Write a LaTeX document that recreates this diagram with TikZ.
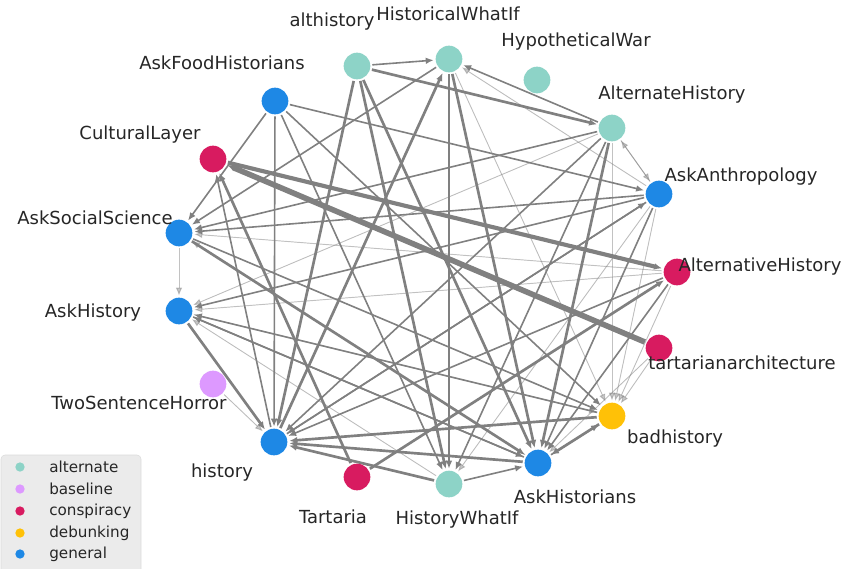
\documentclass[tikz,border=0pt]{standalone}
\usepackage{fontspec}
\setmainfont{DejaVu Sans}
\usepackage{xcolor}
\usepackage{tikz}
\usetikzlibrary{arrows.meta,positioning,backgrounds}
\definecolor{cAlt}{HTML}{8DD3C7}
\definecolor{cBase}{HTML}{DD99FF}
\definecolor{cCons}{HTML}{D81B60}
\definecolor{cDeb}{HTML}{FFC107}
\definecolor{cGen}{HTML}{1E88E5}
\definecolor{eGray}{HTML}{808080}
\definecolor{lblInk}{HTML}{262626}

\begin{document}
\begin{tikzpicture}[
  x=0.75pt, y=-0.75pt,
  font=\fontsize{13.5}{15}\selectfont,
  sub/.style={circle, minimum size=20pt, inner sep=0pt, outer sep=1.5pt},
  alt/.style={sub, fill=cAlt},
  base/.style={sub, fill=cBase},
  cons/.style={sub, fill=cCons},
  deb/.style={sub, fill=cDeb},
  gen/.style={sub, fill=cGen},
  lbl/.style={text=lblInk, inner sep=0pt},
  arr/.style={-{Latex[length=6pt,width=5pt]}, draw=eGray, fill=eGray},
  e1/.style={arr, line width=0.7pt, draw opacity=0.45, fill opacity=0.45},
  e2/.style={arr, line width=1.2pt},
  e3/.style={arr, line width=2pt},
  e4/.style={arr, line width=3.1pt},
  e5/.style={arr, line width=4.2pt},
  legdot/.style={circle, minimum size=7pt, inner sep=0pt},
  legtxt/.style={anchor=west, inner sep=0pt, text=lblInk, font=\fontsize{11.4}{13}\selectfont}
]
\useasboundingbox (0,0) rectangle (846,568);

% subreddits
\node[alt]  (althistory) at (357,66) {};
\node[alt]  (hwi)        at (449,59) {};
\node[alt]  (hypwar)     at (537,80) {};
\node[alt]  (althist)    at (612,128) {};
\node[gen]  (anthro)     at (659,194) {};
\node[cons] (altvhist)   at (677,272) {};
\node[cons] (tarchi)     at (659,348) {};
\node[deb]  (badhist)    at (612,416) {};
\node[gen]  (askhists)   at (538,463) {};
\node[alt]  (hwif)       at (449,484) {};
\node[cons] (tartaria)   at (357,477) {};
\node[gen]  (history)    at (274,442) {};
\node[base] (twosent)    at (213,384) {};
\node[gen]  (askhistory) at (179,311) {};
\node[gen]  (socsci)     at (179,233) {};
\node[cons] (cultlayer)  at (213,159) {};
\node[gen]  (foodhist)   at (275,101) {};

% labels
\node[lbl] (lAlthistory) at (332,22)  {althistory};
\node[lbl] (lHwi)        at (448,14)  {HistoricalWhatIf};
\node[lbl] (lHypwar)     at (576,42)  {HypotheticalWar};
\node[lbl] (lAlthist)    at (672,95)  {AlternateHistory};
\node[lbl] (lAnthro)     at (741,177) {AskAnthropology};
\node[lbl] (lAltvhist)   at (760,267) {AlternativeHistory};
\node[lbl] (lTarchi)     at (742,363) {tartarianarchitecture};
\node[lbl] (lBadhist)    at (675,439) {badhistory};
\node[lbl] (lAskhists)   at (575,497) {AskHistorians};
\node[lbl] (lHwif)       at (457,520) {HistoryWhatIf};
\node[lbl] (lTartaria)   at (333,517) {Tartaria};
\node[lbl] (lHistory)    at (222,473) {history};
\node[lbl] (lTwosent)    at (139,403) {TwoSentenceHorror};
\node[lbl] (lAskhistory) at (93,313)  {AskHistory};
\node[lbl] (lSocsci)     at (95,218)  {AskSocialScience};
\node[lbl] (lCultlayer)  at (140,135) {CulturalLayer};
\node[lbl] (lFoodhist)   at (222,63)  {AskFoodHistorians};

\begin{scope}[on background layer]
% heavy links
\draw[e5] (tarchi) -- (cultlayer);
\draw[e4] (cultlayer) -- (altvhist);
\draw[e3] (althistory) -- (althist);
\draw[e3] (althistory) -- (history);
\draw[e3] (althistory) -- (hwif);
\draw[e3] (althistory) -- (askhists);
\draw[e3] (hwi) -- (hwif);
\draw[e3] (hwi) -- (askhists);
\draw[e3] (history) -- (hwi);
\draw[e3] (tartaria) -- (cultlayer);
\draw[e3] (tartaria) -- (altvhist);
\draw[e3] (socsci) -- (askhists);
\draw[e3] (askhistory) -- (history);
\draw[e3] (askhists) -- (history);
\draw[e3] (badhist) -- (history);
\draw[e3] (hwif) -- (history);
\draw[e3] (badhist) -- (askhists);
\draw[e3] (althist) -- (askhists);
% medium links
\draw[e2] (althistory) -- (hwi);
\draw[e2] (althist) -- (hwi);
\draw[e2] (hwi) -- (socsci);
\draw[e2] (foodhist) -- (history);
\draw[e2] (foodhist) -- (socsci);
\draw[e2] (foodhist) -- (anthro);
\draw[e2] (foodhist) -- (badhist);
\draw[e2] (foodhist) -- (hwif);
\draw[e2] (history) -- (cultlayer);
\draw[e2] (socsci) -- (badhist);
\draw[e2] (askhistory) -- (askhists);
\draw[e2] (altvhist) -- (history);
\draw[e2] (anthro) -- (history);
\draw[e2] (althist) -- (history);
\draw[e2] (hwif) -- (askhists);
\draw[e2] (askhists) -- (badhist);
\draw[e2] (anthro) -- (askhists);
\draw[e2] (altvhist) -- (askhists);
\draw[e2] (althist) -- (hwif);
\draw[e2] (anthro) -- (socsci);
\draw[e2] (althist) -- (socsci);
\draw[e2] (anthro) -- (askhistory);
\draw[e2] (badhist) -- (askhistory);
\draw[e2] (askhists) -- (askhistory);
\draw[e2] (history) -- (anthro);
% faint links
\draw[e1] (anthro) -- (hwi);
\draw[e1] (socsci) -- (askhistory);
\draw[e1] (askhistory) -- (badhist);
\draw[e1] (twosent) -- (history);
\draw[e1] (tarchi) -- (askhists);
\draw[e1] (anthro) -- (hwif);
\draw[e1] (althist) -- (badhist);
\draw[e1] (anthro) -- (badhist);
\draw[e1] (tarchi) -- (badhist);
\draw[e1] (altvhist) -- (badhist);
\draw[e1] (althist) -- (anthro);
\draw[e1] (anthro) -- (althist);
\draw[e1] (altvhist) -- (socsci);
\draw[e1] (altvhist) -- (askhistory);
\draw[e1] (althist) -- (askhistory);
\draw[e1] (hwif) -- (askhistory);
\draw[e1] (askhists) -- (socsci);
\draw[e1] (hwi) -- (badhist);
\end{scope}

% legend
\draw[fill=black!8, draw=black!14, rounded corners=3pt] (1,455) rectangle (141,575);
\node[legdot, fill=cAlt]  (kAlt)  at (20,467) {};
\node[legdot, fill=cBase] (kBase) at (20,489) {};
\node[legdot, fill=cCons] (kCons) at (20,511) {};
\node[legdot, fill=cDeb]  (kDeb)  at (20,533) {};
\node[legdot, fill=cGen]  (kGen)  at (20,554) {};
\node[legtxt] (tAlt)  at (49,467) {alternate};
\node[legtxt] (tBase) at (49,489) {baseline};
\node[legtxt] (tCons) at (49,511) {conspiracy};
\node[legtxt] (tDeb)  at (49,533) {debunking};
\node[legtxt] (tGen)  at (49,554) {general};
\end{tikzpicture}
\end{document}
